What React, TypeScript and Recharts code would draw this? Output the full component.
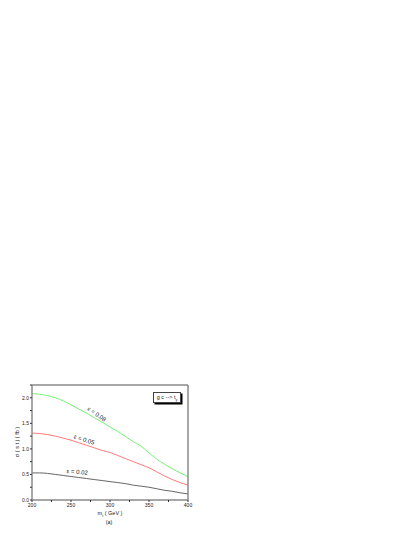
import { LineChart, Line, XAxis, YAxis, ReferenceDot } from "recharts";

const masses = [200, 210, 220, 230, 240, 250, 260, 270, 280, 290, 300, 310, 320, 330, 340, 350, 360, 370, 380, 390, 400];
const sigma008 = [2.08, 2.07, 2.04, 2.0, 1.94, 1.86, 1.78, 1.7, 1.61, 1.52, 1.43, 1.34, 1.24, 1.14, 1.05, 0.92, 0.8, 0.7, 0.61, 0.53, 0.46];
const sigma005 = [1.31, 1.3, 1.28, 1.25, 1.21, 1.17, 1.12, 1.07, 1.02, 0.97, 0.93, 0.87, 0.81, 0.75, 0.69, 0.63, 0.55, 0.47, 0.4, 0.34, 0.29];
const sigma002 = [0.53, 0.53, 0.52, 0.5, 0.48, 0.46, 0.44, 0.42, 0.4, 0.38, 0.36, 0.34, 0.32, 0.29, 0.27, 0.25, 0.22, 0.19, 0.17, 0.14, 0.12];

const xTicks = [200, 225, 250, 275, 300, 325, 350, 375, 400];
const yTicks = [0, 0.25, 0.5, 0.75, 1.0, 1.25, 1.5, 1.75, 2.0, 2.25];

const data = masses.map((m, i) => ({
  m,
  s008: sigma008[i],
  s005: sigma005[i],
  s002: sigma002[i],
}));

const frame = "#8a8a8a";
const font = "'Liberation Sans', Arial, sans-serif";

const curveLabel = (text: string, angle: number) => (props: any) => {
  const vb = props.viewBox || {};
  const cx = (vb.x ?? 0) + (vb.width ?? 0) / 2;
  const cy = (vb.y ?? 0) + (vb.height ?? 0) / 2;
  return (
    <text
      x={cx}
      y={cy}
      transform={`rotate(${angle} ${cx} ${cy})`}
      textAnchor="middle"
      dominantBaseline="central"
      fontSize={6}
      fontFamily={font}
      fill="#222"
    >
      {text}
    </text>
  );
};

const xTick = (v: number) => (v % 50 === 0 ? String(v) : "");
const yTick = (v: number) => (Math.abs((v * 2) % 1) < 1e-6 && v <= 2 ? v.toFixed(1) : "");

export default function App() {
  return (
    <div style={{ position: "absolute", left: 0, top: 0, width: 415, height: 537, background: "#fff", fontFamily: font }}>
      <LineChart width={415} height={537} data={data} margin={{ top: 384, right: 226, bottom: 25, left: 20 }}>
        <XAxis
          dataKey="m"
          type="number"
          domain={[200, 400]}
          ticks={xTicks}
          tickFormatter={xTick}
          height={12}
          axisLine={{ stroke: frame, strokeWidth: 1.5 }}
          tickLine={{ stroke: "#333" }}
          tickSize={2}
          tickMargin={1}
          tick={{ fontSize: 5, fill: "#222", fontFamily: font }}
          interval={0}
        />
        <XAxis
          xAxisId="top"
          orientation="top"
          dataKey="m"
          type="number"
          domain={[200, 400]}
          height={1}
          tick={false}
          tickLine={false}
          axisLine={{ stroke: frame, strokeWidth: 1.5 }}
        />
        <YAxis
          type="number"
          domain={[0, 2.25]}
          ticks={yTicks}
          tickFormatter={yTick}
          width={12}
          axisLine={{ stroke: frame, strokeWidth: 1.5 }}
          tickLine={{ stroke: "#333" }}
          tickSize={2}
          tickMargin={1}
          tick={{ fontSize: 5, fill: "#222", fontFamily: font }}
          interval={0}
        />
        <YAxis
          yAxisId="right"
          orientation="right"
          type="number"
          domain={[0, 2.25]}
          width={1}
          tick={false}
          tickLine={false}
          axisLine={{ stroke: frame, strokeWidth: 1.5 }}
        />
        <Line type="monotone" dataKey="s008" stroke="#66ee66" strokeWidth={0.9} dot={false} isAnimationActive={false} />
        <Line type="monotone" dataKey="s005" stroke="#ff6b6b" strokeWidth={0.9} dot={false} isAnimationActive={false} />
        <Line type="monotone" dataKey="s002" stroke="#555" strokeWidth={0.9} dot={false} isAnimationActive={false} />
        <ReferenceDot x={283} y={1.68} r={0} fill="none" stroke="none" label={curveLabel("ε = 0.08", 35)} />
        <ReferenceDot x={267} y={1.18} r={0} fill="none" stroke="none" label={curveLabel("ε = 0.05", 18)} />
        <ReferenceDot x={258} y={0.55} r={0} fill="none" stroke="none" label={curveLabel("ε = 0.02", 5)} />
      </LineChart>

      {/* legend box with drop shadow */}
      <div
        style={{
          position: "absolute",
          left: 153,
          top: 392,
          width: 26,
          height: 9,
          border: "1px solid #444",
          background: "#fff",
          boxShadow: "1.5px 1.5px 0 #000",
          fontSize: 5.5,
          lineHeight: "9px",
          textAlign: "center",
          color: "#222",
          whiteSpace: "nowrap",
        }}
      >
        g c --&gt; t<sub style={{ fontSize: 3.5 }}>γ</sub>
      </div>

      {/* y axis title */}
      <div
        style={{
          position: "absolute",
          left: 17,
          top: 442,
          transform: "translate(-50%, -50%) rotate(-90deg)",
          fontSize: 5.5,
          color: "#222",
          whiteSpace: "nowrap",
        }}
      >
        σ ( s t ) ( fb )
      </div>

      {/* x axis title */}
      <div
        style={{
          position: "absolute",
          left: 110,
          top: 514,
          transform: "translate(-50%, -50%)",
          fontSize: 5.5,
          color: "#222",
          whiteSpace: "nowrap",
          textAlign: "center",
        }}
      >
        m<sub style={{ fontSize: 3.5 }}>t</sub> ( GeV )
      </div>
      <div
        style={{
          position: "absolute",
          left: 109,
          top: 522,
          transform: "translate(-50%, -50%)",
          fontSize: 5.5,
          color: "#222",
        }}
      >
        (a)
      </div>
    </div>
  );
}
